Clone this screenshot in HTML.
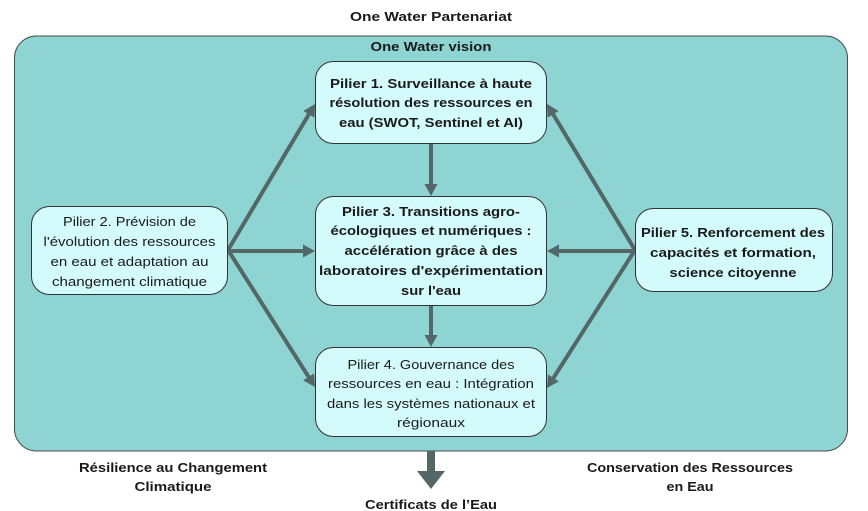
<!DOCTYPE html>
<html>
<head>
<meta charset="utf-8">
<style>
html,body{margin:0;padding:0;background:#fff;}
svg{display:block;}
text{font-family:"Liberation Sans",Arial,sans-serif;font-size:13px;fill:#1a1a1a;}
.b{font-weight:bold;}
</style>
</head>
<body>
<svg width="868" height="511" viewBox="0 0 868 511" xmlns="http://www.w3.org/2000/svg">
<defs>
<marker id="ah" markerUnits="userSpaceOnUse" markerWidth="13" markerHeight="14" refX="4" refY="6.5" orient="auto">
<path d="M0,0 L12,6.5 L0,13 z" fill="#546767"/>
</marker>
</defs>

<!-- Title -->
<text class="b" x="431" y="21" text-anchor="middle" textLength="162" lengthAdjust="spacingAndGlyphs">One Water Partenariat</text>

<!-- Big container -->
<rect x="14.5" y="36" width="833" height="415" rx="22" ry="22" fill="#8dd4d3" stroke="#4a4a4a" stroke-width="1"/>
<text class="b" x="431" y="51" text-anchor="middle" textLength="121" lengthAdjust="spacingAndGlyphs">One Water vision</text>

<!-- Arrows -->
<g stroke="#546767" stroke-width="4" fill="none" marker-end="url(#ah)">
<line x1="228" y1="250" x2="310.9" y2="110.9"/>
<line x1="228" y1="251" x2="307" y2="251"/>
<line x1="228" y1="250" x2="310.7" y2="380.2"/>
<line x1="635" y1="250" x2="551.1" y2="110.9"/>
<line x1="635" y1="251" x2="555" y2="251"/>
<line x1="635" y1="250" x2="551.3" y2="381.3"/>
<line x1="431" y1="143" x2="431" y2="188"/>
<line x1="431" y1="305" x2="431" y2="339"/>
</g>

<!-- Pilier 1 -->
<rect x="315.5" y="61.5" width="231" height="82" rx="18" ry="18" fill="#d4fbfb" stroke="#333" stroke-width="1"/>
<text class="b" x="431" y="88" text-anchor="middle" textLength="202" lengthAdjust="spacingAndGlyphs">Pilier 1. Surveillance à haute</text>
<text class="b" x="431" y="107" text-anchor="middle" textLength="203" lengthAdjust="spacingAndGlyphs">résolution des ressources en</text>
<text class="b" x="431" y="127" text-anchor="middle" textLength="184" lengthAdjust="spacingAndGlyphs">eau (SWOT, Sentinel et AI)</text>

<!-- Pilier 3 -->
<rect x="315.5" y="196.5" width="231" height="109" rx="18" ry="18" fill="#d4fbfb" stroke="#333" stroke-width="1"/>
<text class="b" x="431" y="216" text-anchor="middle" textLength="178" lengthAdjust="spacingAndGlyphs">Pilier 3. Transitions agro-</text>
<text class="b" x="431" y="235" text-anchor="middle" textLength="201" lengthAdjust="spacingAndGlyphs">écologiques et numériques :</text>
<text class="b" x="431" y="255" text-anchor="middle" textLength="173" lengthAdjust="spacingAndGlyphs">accélération grâce à des</text>
<text class="b" x="431" y="275" text-anchor="middle" textLength="224" lengthAdjust="spacingAndGlyphs">laboratoires d'expérimentation</text>
<text class="b" x="431" y="295" text-anchor="middle" textLength="60" lengthAdjust="spacingAndGlyphs">sur l'eau</text>

<!-- Pilier 4 -->
<rect x="315.5" y="347.5" width="231" height="89" rx="18" ry="18" fill="#d4fbfb" stroke="#333" stroke-width="1"/>
<text x="431" y="369" text-anchor="middle" textLength="167" lengthAdjust="spacingAndGlyphs">Pilier 4. Gouvernance des</text>
<text x="431" y="388" text-anchor="middle" textLength="206" lengthAdjust="spacingAndGlyphs">ressources en eau : Intégration</text>
<text x="431" y="408" text-anchor="middle" textLength="208" lengthAdjust="spacingAndGlyphs">dans les systèmes nationaux et</text>
<text x="431" y="427" text-anchor="middle" textLength="68" lengthAdjust="spacingAndGlyphs">régionaux</text>

<!-- Pilier 2 -->
<rect x="31.5" y="206.5" width="196" height="88" rx="18" ry="18" fill="#d4fbfb" stroke="#333" stroke-width="1"/>
<text x="129.5" y="226" text-anchor="middle" textLength="133" lengthAdjust="spacingAndGlyphs">Pilier 2. Prévision de</text>
<text x="129.5" y="246" text-anchor="middle" textLength="172" lengthAdjust="spacingAndGlyphs">l'évolution des ressources</text>
<text x="129.5" y="266" text-anchor="middle" textLength="158" lengthAdjust="spacingAndGlyphs">en eau et adaptation au</text>
<text x="129.5" y="286" text-anchor="middle" textLength="155" lengthAdjust="spacingAndGlyphs">changement climatique</text>

<!-- Pilier 5 -->
<rect x="635.5" y="208.5" width="197" height="83" rx="18" ry="18" fill="#d4fbfb" stroke="#333" stroke-width="1"/>
<text class="b" x="733" y="237" text-anchor="middle" textLength="184" lengthAdjust="spacingAndGlyphs">Pilier 5. Renforcement des</text>
<text class="b" x="733" y="257" text-anchor="middle" textLength="166" lengthAdjust="spacingAndGlyphs">capacités et formation,</text>
<text class="b" x="733" y="277" text-anchor="middle" textLength="127" lengthAdjust="spacingAndGlyphs">science citoyenne</text>

<!-- Big down arrow -->
<polygon points="427,451 435,451 435,471 445,471 431,489 417,471 427,471" fill="#546767"/>

<!-- Bottom labels -->
<text class="b" x="173" y="472" text-anchor="middle" textLength="188" lengthAdjust="spacingAndGlyphs">Résilience au Changement</text>
<text class="b" x="173" y="491" text-anchor="middle" textLength="77" lengthAdjust="spacingAndGlyphs">Climatique</text>
<text class="b" x="690" y="472" text-anchor="middle" textLength="206" lengthAdjust="spacingAndGlyphs">Conservation des Ressources</text>
<text class="b" x="690" y="491" text-anchor="middle" textLength="47" lengthAdjust="spacingAndGlyphs">en Eau</text>
<text class="b" x="431" y="509" text-anchor="middle" textLength="132" lengthAdjust="spacingAndGlyphs">Certificats de l’Eau</text>
</svg>
</body>
</html>
